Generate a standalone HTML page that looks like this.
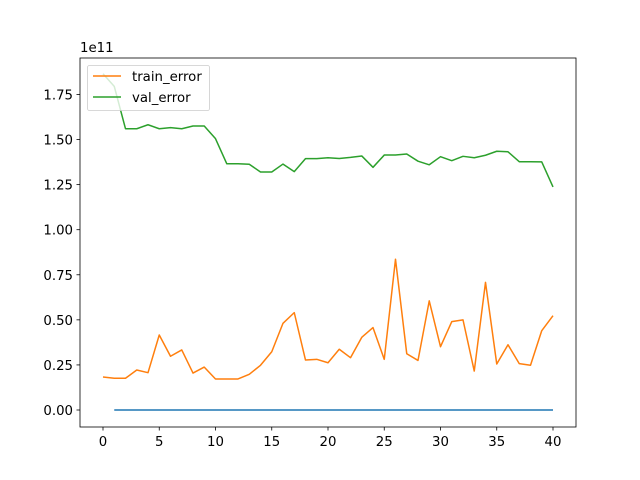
<!DOCTYPE html>
<html><head><meta charset="utf-8"><style>
body{margin:0;background:#fff}
svg{display:block;font-family:"DejaVu Sans","Liberation Sans",sans-serif}
</style></head><body>
<svg id="chart" width="640" height="480" xmlns="http://www.w3.org/2000/svg">
<rect width="640" height="480" fill="#fff"/>
<g id="plot"></g>
</svg>
<script>
const epochs = Array.from({length:41},(_,i)=>i);
const trainError = [0.183,0.176,0.176,0.222,0.207,0.416,0.298,0.333,0.205,0.238,0.172,0.172,0.172,0.198,0.248,0.323,0.481,0.54,0.277,0.281,0.262,0.337,0.29,0.403,0.457,0.281,0.836,0.312,0.275,0.605,0.351,0.49,0.5,0.216,0.708,0.255,0.362,0.257,0.248,0.44,0.523];
const valError = [1.865,1.795,1.56,1.56,1.582,1.56,1.566,1.56,1.575,1.575,1.505,1.366,1.366,1.363,1.32,1.32,1.364,1.322,1.394,1.394,1.399,1.395,1.401,1.409,1.346,1.414,1.414,1.42,1.38,1.36,1.405,1.383,1.407,1.399,1.413,1.435,1.432,1.377,1.377,1.376,1.237];
const baseline = Array(40).fill(0);
const xTicks = [0,5,10,15,20,25,30,35,40];
const yTicks = [0,0.25,0.5,0.75,1.0,1.25,1.5,1.75];
const yTickLabels = ["0.00","0.25","0.50","0.75","1.00","1.25","1.50","1.75"];

const L=80,R=576,T=58,B=427;
const X=v=>103+v*11.25;
const Y=v=>410-v*180.3;
const FS=13.3;
const NS="http://www.w3.org/2000/svg";
const g=document.getElementById('plot');
function mk(tag,attrs,parent){const e=document.createElementNS(NS,tag);for(const k in attrs)e.setAttribute(k,attrs[k]);(parent||g).appendChild(e);return e;}

function line(xs,ys,color,name){
  const p=mk('polyline',{points:xs.map((x,i)=>X(x)+','+Y(ys[i])).join(' '),fill:'none',stroke:color,'stroke-width':1.5,'stroke-linejoin':'round'});
  
  
}
line(baseline.map((_,i)=>i+1),baseline,'#1f77b4','baseline-line');
line(epochs,trainError,'#ff7f0e','train-error-line');
line(epochs,valError,'#2ca02c','val-error-line');

const frame=mk('rect',{x:L,y:T,width:R-L,height:B-T,fill:'none',stroke:'#000','stroke-width':0.8});



xTicks.forEach(t=>{
  mk('line',{x1:X(t),x2:X(t),y1:B,y2:B+3.5,stroke:'#000','stroke-width':0.8});
  const tx=mk('text',{x:X(t),y:B+19,'text-anchor':'middle','font-size':FS,fill:'#000'});
  tx.textContent=t;
  
  
});
yTicks.forEach((t,i)=>{
  mk('line',{x1:L-3.5,x2:L,y1:Y(t),y2:Y(t),stroke:'#000','stroke-width':0.8});
  const tx=mk('text',{x:L-7,y:Y(t)+5,'text-anchor':'end','font-size':FS,fill:'#000'});
  tx.textContent=yTickLabels[i];
  
  
});
const off=mk('text',{x:L,y:T-6,'font-size':FS,fill:'#000'});
off.textContent='1e11';



const lg=mk('g',{});


mk('rect',{x:87.5,y:65.5,width:122,height:45,rx:2,fill:'#fff','fill-opacity':0.8,stroke:'#ccc','stroke-width':0.8},lg);
[['train_error','#ff7f0e',76],['val_error','#2ca02c',97]].forEach(([n,c,yy])=>{
  const e=mk('g',{},lg);
  
  
  mk('line',{x1:93,x2:121,y1:yy,y2:yy,stroke:c,'stroke-width':1.5},e);
  const t=mk('text',{x:132,y:yy+5,'font-size':FS,fill:'#000'},e);
  t.textContent=n;
});
</script>
</body></html>
